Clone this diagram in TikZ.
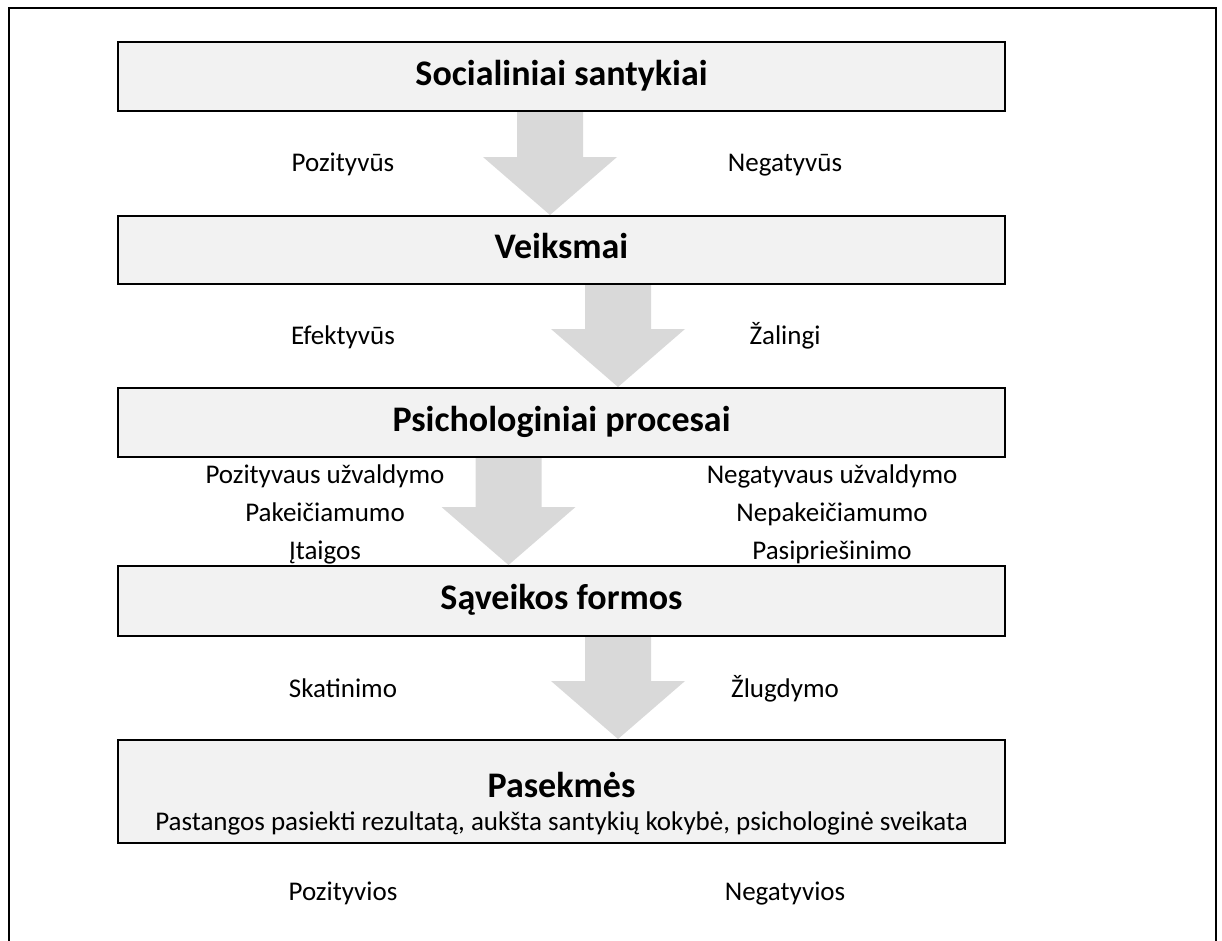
\documentclass[tikz,border=0pt]{standalone}
\usepackage{fontspec}
\setmainfont{Carlito}
\usepackage{xcolor}
\usetikzlibrary{calc}

\definecolor{boxgray}{HTML}{F2F2F2}
\definecolor{arrowgray}{HTML}{D9D9D9}

% block arrow from one stage to the next: from, to, x offset
\newcommand{\stagearrow}[3]{%
    \fill[flowarrow] ($(#1.south)+(#3-33,0)$) -- ($(#1.south)+(#3+33,0)$)
        -- ($(#2.north)+(#3+33,-58)$) -- ($(#2.north)+(#3+67,-58)$)
        -- ($(#2.north)+(#3,0)$)
        -- ($(#2.north)+(#3-67,-58)$) -- ($(#2.north)+(#3-33,-58)$) -- cycle;}

\begin{document}
\begin{tikzpicture}[x=1pt,y=-1pt]

        \tikzstyle{stagebox}=[draw,line width=2pt,fill=boxgray,minimum width=887pt,minimum height=69pt,inner sep=0pt,font=\fontsize{36}{43}\selectfont\bfseries]
        \tikzstyle{titletext}=[inner sep=0pt,text height=25pt,text depth=8pt,font=\fontsize{36}{43}\selectfont\bfseries]
        \tikzstyle{sidelabel}=[inner sep=0pt,text height=19pt,text depth=6pt,font=\fontsize{27}{38}\selectfont]
        \tikzstyle{sidelist}=[align=center,font=\fontsize{27}{38}\selectfont]
        \tikzstyle{flowarrow}=[fill=arrowgray]

        \useasboundingbox (0,0) rectangle (1222,940);

        %% Outer frame, open at the bottom
        \draw[line width=2pt] (9,960) |- (1216,8) -- (1216,960);

        %% Stages
        \node[stagebox,text height=25pt,text depth=8pt] (social) at (561.5,76.5) {Socialiniai santykiai};
        \node[stagebox,text height=25pt,text depth=8pt,minimum height=68pt] (actions) at (561.5,250) {Veiksmai};
        \node[stagebox,text height=25pt,text depth=8pt] (psych) at (561.5,422.5) {Psichologiniai procesai};
        \node[stagebox,text height=25pt,text depth=8pt,minimum height=70pt] (forms) at (561.5,601) {Sąveikos formos};
        \node[stagebox,minimum height=103pt] (result) at (561.5,791.5) {};
        \node[titletext] (resulttitle) at (561.5,789) {Pasekmės};
        \node[sidelabel] (resultnote) at (561.5,824) {Pastangos pasiekti rezultatą, aukšta santykių kokybė, psichologinė sveikata};

        %% Arrows between stages
        \stagearrow{social}{actions}{-11.5}
        \stagearrow{actions}{psych}{56.5}
        \stagearrow{psych}{forms}{-53}
        \stagearrow{forms}{result}{56.5}

        %% Side labels
        \node[sidelabel] (pos1) at (343,165) {Pozityvūs};
        \node[sidelabel] (neg1) at (785,165) {Negatyvūs};
        \node[sidelabel] (pos2) at (343,338) {Efektyvūs};
        \node[sidelabel] (neg2) at (785,338) {Žalingi};
        \node[sidelist] (pos3) at (325,514) {Pozityvaus užvaldymo\\Pakeičiamumo\\Įtaigos};
        \node[sidelist] (neg3) at (832,514) {Negatyvaus užvaldymo\\Nepakeičiamumo\\Pasipriešinimo};
        \node[sidelabel] (pos4) at (343,691) {Skatinimo};
        \node[sidelabel] (neg4) at (785,691) {Žlugdymo};
        \node[sidelabel] (pos5) at (343,894) {Pozityvios};
        \node[sidelabel] (neg5) at (785,894) {Negatyvios};

\end{tikzpicture}
\end{document}
